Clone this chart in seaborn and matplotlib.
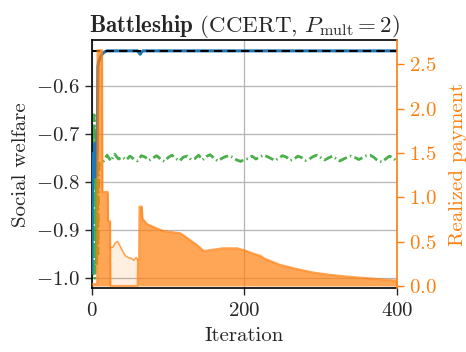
import matplotlib
matplotlib.use("Agg")
import matplotlib.pyplot as plt
import seaborn as sns

# optimum social welfare (dashed reference line)
optimum = -0.5266

# social welfare, blue run
blue_iter = [0, 1, 2, 3, 4, 5, 6, 7, 8, 9, 10, 12, 14, 17, 20, 60, 62, 63.5, 65, 67, 400]
blue_val = [-0.99, -0.80, -0.74, -0.78, -0.72, -0.79, -0.75, -0.73, -0.56, -0.549, -0.545,
            -0.538, -0.533, -0.529, -0.527, -0.527, -0.531, -0.534, -0.530, -0.527, -0.527]

# social welfare, green run
green_iter = [0, 1, 2, 3, 4, 5, 6, 7, 8, 9] + list(range(10, 401, 5))
green_val = [-1.0, -0.70, -0.99, -0.66, -1.0, -0.69, -0.97, -0.72, -0.95, -0.78,
             -0.760, -0.757, -0.744, -0.756, -0.742, -0.752, -0.748, -0.754, -0.746, -0.752,
             -0.756, -0.745, -0.748, -0.755, -0.750, -0.745, -0.752, -0.757, -0.749, -0.744,
             -0.751, -0.756, -0.748, -0.746, -0.753, -0.751, -0.744, -0.754, -0.747, -0.743,
             -0.750, -0.756, -0.751, -0.747, -0.745, -0.749, -0.754, -0.757, -0.753, -0.751,
             -0.746, -0.752, -0.748, -0.744, -0.747, -0.751, -0.755, -0.750, -0.745, -0.748,
             -0.755, -0.752, -0.746, -0.749, -0.755, -0.752, -0.747, -0.744, -0.749, -0.754,
             -0.750, -0.746, -0.751, -0.756, -0.752, -0.748, -0.746, -0.749, -0.753, -0.749,
             -0.745, -0.744, -0.749, -0.756, -0.758, -0.752, -0.746, -0.750, -0.757]

# realized payment (right axis)
pay_iter = [0, 7, 7.5, 13.5, 14, 21, 21.5, 24, 24.5, 60, 60.5, 62, 62.5, 65.5, 66.5, 72, 85,
            94, 116, 125, 138, 146.5, 155, 172, 190, 201, 210, 221, 226, 246, 269, 291, 313,
            335, 357, 379, 400]
pay_val = [0.02, 0.02, 2.66, 2.66, 1.06, 1.06, 0.73, 0.73, 0.0, 0.0, 0.30, 0.30, 0.895, 0.895,
           0.76, 0.70, 0.65, 0.62, 0.595, 0.54, 0.46, 0.395, 0.405, 0.425, 0.425, 0.40, 0.37,
           0.34, 0.31, 0.24, 0.19, 0.15, 0.125, 0.105, 0.09, 0.075, 0.06]

# light band where payment stays low
band_iter = [24, 28, 31, 34, 37, 40, 44, 48, 52, 55, 58, 60]
band_top = [0.43, 0.44, 0.49, 0.50, 0.45, 0.40, 0.34, 0.32, 0.31, 0.29, 0.32, 0.30]

sns.set_style("white")
plt.rcParams["font.family"] = "serif"
plt.rcParams["font.serif"] = ["cmr10"]
plt.rcParams["mathtext.fontset"] = "cm"
plt.rcParams["axes.formatter.use_mathtext"] = True

fig, ax = plt.subplots(figsize=(4.66, 3.52), dpi=100)
fig.subplots_adjust(left=0.197, right=0.852, top=0.885, bottom=0.182)
ax2 = ax.twinx()

ax.grid(True, color="#b5b5b5", lw=0.9)
ax.axhline(optimum, color="black", ls=(0, (4, 2.5)), lw=1.5, zorder=4)
sns.lineplot(x=blue_iter, y=blue_val, ax=ax, color="tab:blue", lw=2.2, estimator=None, zorder=3)
sns.lineplot(x=green_iter, y=green_val, ax=ax, color="tab:green", lw=2,
             ls=(0, (3.2, 1.2, 0.5, 1.2)), estimator=None, alpha=0.85)

ax2.fill_between(band_iter, 0, band_top, color="tab:orange", alpha=0.12, lw=0)
sns.lineplot(x=band_iter, y=band_top, ax=ax2, color="tab:orange", alpha=0.7, lw=1.2, estimator=None)
ax2.fill_between(pay_iter, 0, pay_val, color="tab:orange", alpha=0.7, lw=0)
sns.lineplot(x=pay_iter, y=pay_val, ax=ax2, color="tab:orange", alpha=0.7, lw=1.5, estimator=None)

ax.set_xlim(0, 400)
ax.set_ylim(-1.0202, -0.5054)
ax2.set_ylim(-0.0226, 2.77)
ax.set_xticks([0, 200, 400])
ax.set_yticks([-1.0, -0.9, -0.8, -0.7, -0.6])
ax2.set_yticks([0.0, 0.5, 1.0, 1.5, 2.0, 2.5])

ax.tick_params(direction="out", length=5, width=1, labelsize=15, left=True, bottom=True)
ax.tick_params(axis="x", pad=5)
ax2.tick_params(direction="out", length=5, width=1, labelsize=15, colors="tab:orange")
for s in ["left", "bottom", "top"]:
    ax.spines[s].set_color("black")
    ax.spines[s].set_linewidth(1.2)
ax.spines["right"].set_visible(False)
ax2.spines["right"].set_color("tab:orange")
ax2.spines["right"].set_linewidth(1.2)
for s in ["left", "bottom", "top"]:
    ax2.spines[s].set_visible(False)

ax.set_xlabel("Iteration", fontsize=15, labelpad=5)
ax.set_ylabel("Social welfare", fontsize=15, labelpad=4)
ax2.set_ylabel("Realized payment", fontsize=15, color="tab:orange", labelpad=9)
ax.set_title(r"$\mathbf{Battleship}$ (CCERT, $P_\mathrm{mult}=2$)", fontsize=16.5, pad=5)

fig.savefig("out.png", dpi=100)
